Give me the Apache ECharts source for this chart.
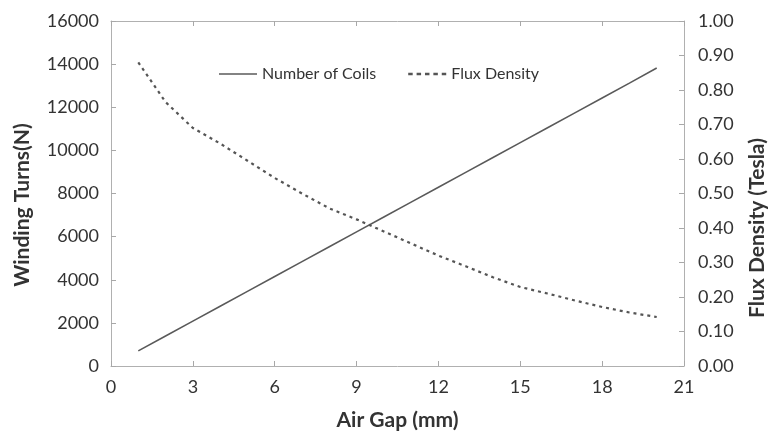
<!DOCTYPE html>
<html><head><meta charset="utf-8">
<script src="https://cdn.jsdelivr.net/npm/echarts@6/dist/echarts.min.js"></script>
<style>html,body{margin:0;padding:0;background:#fff}#c{width:772px;height:435px}</style>
</head><body><div id="c"></div>
<script>
const airGap = [1,2,3,4,5,6,7,8,9,10,11,12,13,14,15,16,17,18,19,20];
const coils = [700,1390,2080,2770,3460,4150,4840,5530,6220,6910,7600,8290,8980,9670,10360,11050,11740,12430,13120,13820];
const flux = [0.88,0.765,0.69,0.645,0.595,0.545,0.50,0.457,0.425,0.39,0.355,0.32,0.289,0.257,0.229,0.21,0.19,0.171,0.155,0.142];
const xTicks = [0,3,6,9,12,15,18,21];

const FONT = 'Lato';
const chart = echarts.init(document.getElementById('c'), null, {renderer:'canvas'});
const mkLine = () => ({show:true, onZero:false, lineStyle:{color:'#b0b0b0', width:1}});
const mkTick = () => ({show:true, inside:true, length:5, lineStyle:{color:'#a8a8a8', width:1}});
const dashIcon = 'path://M0,4L4,4L4,6.4L0,6.4Z M7.5,4L11.5,4L11.5,6.4L7.5,6.4Z M15,4L19,4L19,6.4L15,6.4Z M22.5,4L26.5,4L26.5,6.4L22.5,6.4Z M30,4L34,4L34,6.4L30,6.4Z';
chart.setOption({
  animation:false,
  backgroundColor:'#fff',
  textStyle:{fontFamily:FONT},
  grid:{left:111, right:88, top:21, bottom:69, containLabel:false, outerBoundsMode:'none'},
  graphic:[
    {type:'text', x:22, y:205, rotation:Math.PI/2,
     style:{text:'Winding Turns(N)', font:'bold 21px Lato', fill:'#333', align:'center', verticalAlign:'middle'}},
    {type:'text', x:757, y:228, rotation:Math.PI/2,
     style:{text:'Flux Density (Tesla)', font:'bold 21px Lato', fill:'#333', align:'center', verticalAlign:'middle'}}
  ],
  legend:{
    left:214, top:61, itemWidth:38, itemHeight:10, itemGap:32,
    textStyle:{fontFamily:FONT, fontSize:16, color:'#333'},
    data:[{name:'Number of Coils', icon:'path://M0,4.4L38,4.4L38,5.8L0,5.8Z'},
          {name:'Flux Density', icon:dashIcon, itemStyle:{color:'#555'}}]
  },
  xAxis:[{
    type:'value', min:xTicks[0], max:xTicks[xTicks.length-1], interval:3,
    name:'Air Gap (mm)', nameLocation:'middle', nameGap:44,
    nameTextStyle:{fontFamily:FONT, fontSize:21, fontWeight:'bold', color:'#333'},
    axisLine:mkLine(), axisTick:mkTick(),
    axisLabel:{fontFamily:FONT, fontSize:18, color:'#333', margin:12},
    splitLine:{show:false}
  },{
    type:'value', position:'top', min:0, max:21, interval:3,
    axisLine:mkLine(), axisTick:mkTick(), axisLabel:{show:false}, splitLine:{show:false}
  }],
  yAxis:[{
    type:'value', min:0, max:16000, interval:2000, position:'left',
    axisLine:mkLine(), axisTick:mkTick(),
    axisLabel:{fontFamily:FONT, fontSize:18, color:'#333', margin:12, formatter:v=>String(v)},
    splitLine:{show:false}
  },{
    type:'value', min:0, max:1, interval:0.1, position:'right',
    axisLine:mkLine(), axisTick:mkTick(),
    axisLabel:{fontFamily:FONT, fontSize:18, color:'#333', margin:14, formatter:v=>v.toFixed(2)},
    splitLine:{show:false}
  }],
  series:[{
    name:'Number of Coils', type:'line', xAxisIndex:0, yAxisIndex:0,
    data:airGap.map((x,i)=>[x,coils[i]]),
    symbol:'none', lineStyle:{color:'#5a5a5a', width:1.6, type:'solid'}, itemStyle:{color:'#5a5a5a'}
  },{
    name:'Flux Density', type:'line', xAxisIndex:0, yAxisIndex:1,
    data:airGap.map((x,i)=>[x,flux[i]]),
    symbol:'none',
    lineStyle:{color:'#555', width:2.2, type:[3,4]}, itemStyle:{color:'#555'}
  }]
});
</script></body></html>
